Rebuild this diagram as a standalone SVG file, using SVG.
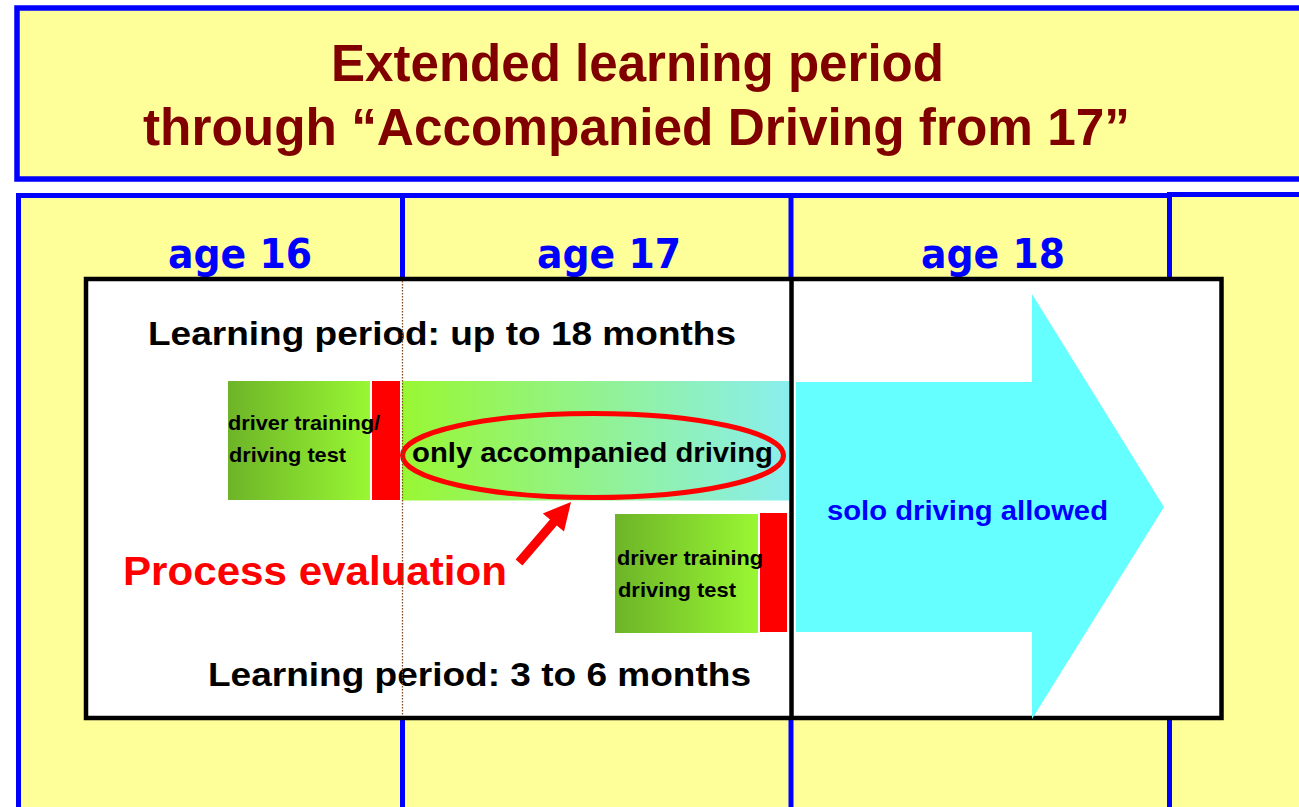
<svg xmlns="http://www.w3.org/2000/svg" width="1299" height="807" viewBox="0 0 1299 807">
  <defs>
    <linearGradient id="gTraining" x1="0" y1="0" x2="1" y2="0">
      <stop offset="0" stop-color="#6DB428"/>
      <stop offset="1" stop-color="#99F733"/>
    </linearGradient>
    <linearGradient id="gAccompanied" x1="0" y1="0" x2="1" y2="0">
      <stop offset="0" stop-color="#99F733"/>
      <stop offset="1" stop-color="#8AEEEE"/>
    </linearGradient>
  </defs>
  <style>
    .sans { font-family: "Liberation Sans", Arial, sans-serif; font-weight: bold; }
    .title { fill: #800000; font-size: 51px; }
    .age { font-family: "Comic Sans MS", "DejaVu Sans", sans-serif; font-weight: bold; font-size: 40px; fill: #0000FF; }
    .period { fill: #000; font-size: 33px; }
    .small { fill: #000; font-size: 21px; }
    .blueline { stroke: #0000FF; stroke-width: 5; fill: none; }
  </style>

  <rect width="1299" height="807" fill="#FFFFFF"/>

  <!-- heading panel -->
  <g id="title">
    <rect x="17" y="8" width="1300" height="171" fill="#FFFF99" stroke="#0000FF" stroke-width="5.5"/>
    <text class="sans title" x="331" y="81" textLength="613" lengthAdjust="spacingAndGlyphs">Extended learning period</text>
    <text class="sans title" x="143" y="145" textLength="987" lengthAdjust="spacingAndGlyphs">through “Accompanied Driving from 17”</text>
  </g>

  <!-- age columns -->
  <g id="columns">
    <rect x="18.5" y="195.5" width="1300" height="640" fill="#FFFF99"/>
    <line class="blueline" x1="18.5" y1="193" x2="18.5" y2="807"/>
    <line class="blueline" x1="16" y1="195.5" x2="1169" y2="195.5"/>
    <line class="blueline" x1="1167" y1="194.5" x2="1299" y2="194.5"/>
    <line class="blueline" x1="402.5" y1="195" x2="402.5" y2="807"/>
    <line class="blueline" x1="791" y1="195" x2="791" y2="807"/>
    <line class="blueline" x1="1169.5" y1="192" x2="1169.5" y2="807" stroke-width="6"/>
    <text class="age" x="168" y="268" textLength="144" lengthAdjust="spacingAndGlyphs">age 16</text>
    <text class="age" x="537" y="268" textLength="144" lengthAdjust="spacingAndGlyphs">age 17</text>
    <text class="age" x="921" y="268" textLength="144" lengthAdjust="spacingAndGlyphs">age 18</text>
  </g>

  <!-- timeline frame -->
  <g id="frame">
    <rect x="86" y="279" width="1135.5" height="439" fill="#FFFFFF" stroke="#000" stroke-width="4.5"/>
  </g>

  <!-- solo driving arrow -->
  <g id="solo">
    <polygon points="796,382 1032,382 1032,294 1164,507 1032,719 1032,632 796,632" fill="#66FFFF"/>
    <text class="sans" x="827" y="520" font-size="27" fill="#0000FF" textLength="281" lengthAdjust="spacingAndGlyphs">solo driving allowed</text>
  </g>

  <line x1="791.5" y1="279" x2="791.5" y2="718" stroke="#000" stroke-width="4.5"/>

  <g id="long-period">
    <text class="sans period" x="148" y="345" textLength="588" lengthAdjust="spacingAndGlyphs">Learning period: up to 18 months</text>
  </g>

  <g id="training-early">
    <rect x="228" y="381" width="142" height="119" fill="url(#gTraining)"/>
    <rect x="372" y="381" width="28" height="119" fill="#FF0000"/>
    <text class="sans small" x="228" y="430" textLength="152" lengthAdjust="spacingAndGlyphs">driver training/</text>
    <text class="sans small" x="229" y="462" textLength="117" lengthAdjust="spacingAndGlyphs">driving test</text>
  </g>

  <g id="accompanied">
    <rect x="402" y="381" width="387" height="119.5" fill="url(#gAccompanied)"/>
    <ellipse cx="593" cy="455.5" rx="190.5" ry="42" fill="none" stroke="#FF0000" stroke-width="5"/>
    <text class="sans" x="412" y="462" font-size="28.5" fill="#000" textLength="361" lengthAdjust="spacingAndGlyphs">only accompanied driving</text>
  </g>

  <g id="training-late">
    <rect x="615" y="514" width="143" height="119" fill="url(#gTraining)"/>
    <rect x="760" y="513" width="27" height="119" fill="#FF0000"/>
    <text class="sans small" x="617" y="565" textLength="146" lengthAdjust="spacingAndGlyphs">driver training</text>
    <text class="sans small" x="618" y="597" textLength="118" lengthAdjust="spacingAndGlyphs">driving test</text>
  </g>

  <g id="short-period">
    <text class="sans period" x="208" y="686" textLength="543" lengthAdjust="spacingAndGlyphs">Learning period: 3 to 6 months</text>
  </g>

  <g id="evaluation">
    <text class="sans" x="123" y="585" font-size="41" fill="#FF0000" textLength="384" lengthAdjust="spacingAndGlyphs">Process evaluation</text>
  </g>

  <!-- age 17 boundary marker -->
  <line x1="402.5" y1="281" x2="402.5" y2="716" stroke="#7F4A1E" stroke-width="1.3" stroke-dasharray="1.5 1.5"/>

  <g id="connectors">
    <polygon points="515.6,559.6 550,519.6 542.8,513.4 571,502 564,531.6 556.8,525.4 522.4,565.4" fill="#FF0000"/>
  </g>
</svg>
